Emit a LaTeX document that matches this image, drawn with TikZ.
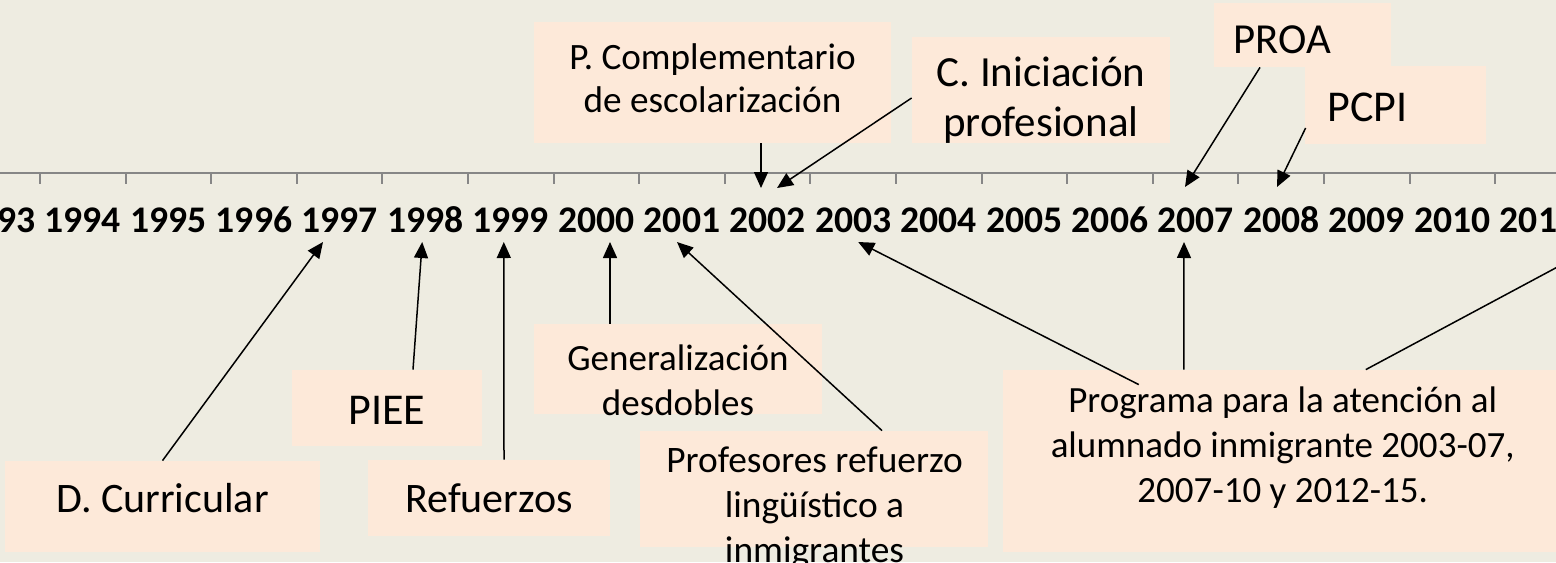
\documentclass[tikz,border=0pt]{standalone}
\usepackage{fontspec}
\setmainfont{Carlito}
\usetikzlibrary{arrows.meta,calc,fit}

\definecolor{bgtan}{RGB}{238,236,225}
\definecolor{peach}{RGB}{253,233,217}
\definecolor{axisgray}{RGB}{134,134,134}

\begin{document}
\begin{tikzpicture}[x=0.5pt, y=-0.5pt, >={Triangle[length=8pt, width=7pt]}]
		\tikzstyle{box} = [fill=peach, inner sep=0pt]
		\tikzstyle{txt} = [align=center, inner sep=0pt]
		\tikzstyle{year} = [inner sep=0pt, text height=12.5pt, text depth=0pt, font=\bfseries\fontsize{18.8}{22}\selectfont]
		\tikzstyle{axis} = [axisgray, line width=1pt]
		\tikzstyle{arr} = [->, black, line width=0.75pt]

		\useasboundingbox (0,0) rectangle (1556,562);
		\clip (0,0) rectangle (1556,562);
		\fill[bgtan] (0,0) rectangle (1556,562);

		% time axis
		\draw[axis] (0,173) -- (1556,173);
		\foreach \k in {0,...,17}
			\draw[axis] ({40+85.6*\k},173) -- ++(0,11);
		\foreach \yr in {1993,...,2011}
			\node[year] (y\yr) at ({82.8+85.6*(\yr-1994)},220) {\yr};

		% boxes above the axis
		\node[box, fit={(534,22) (891,143)}] (pcomp) {};
		\node[box, fit={(912,37) (1170,143)}] (cini) {};
		\node[box, fit={(1214,3) (1391,67)}] (proa) {};
		\node[box, fit={(1305,66) (1486,144)}] (pcpi) {};

		% boxes below the axis
		\node[box, fit={(5,461) (320,552)}] (dcur) {};
		\node[box, fit={(292,370) (482,446)}] (piee) {};
		\node[box, fit={(368,460) (610,536)}] (refz) {};
		\node[box, fit={(534,324) (822,414)}] (gen) {};
		\node[box, fit={(640,431) (988,547)}] (prof) {};
		\node[box, fit={(1003,370) (1562,552)}] (prog) {};

		% texts
		\node[txt, font=\fontsize{18.6}{21.5}\selectfont] (pcompT) at (712.5,78.5) {P. Complementario\\de escolarización};
		\node[txt, font=\fontsize{21.5}{25}\selectfont] (ciniT) at (1041,100) {C. Iniciación\\profesional};
		\node[txt, font=\fontsize{21.4}{25}\selectfont] (proaT) at (1282.5,40) {PROA};
		\node[txt, font=\fontsize{22}{26}\selectfont] (pcpiT) at (1367.5,107) {PCPI};
		\node[txt, font=\fontsize{21}{25}\selectfont] (dcurT) at (162.5,498) {D. Curricular};
		\node[txt, font=\fontsize{22}{26}\selectfont] (pieeT) at (387,410) {PIEE};
		\node[txt, font=\fontsize{21}{25}\selectfont] (refzT) at (489,498) {Refuerzos};
		\node[txt, font=\fontsize{18.5}{22.5}\selectfont] (genT) at (678,380.5) {Generalización\\desdobles};
		\node[txt, font=\fontsize{18.7}{22.5}\selectfont] (profT) at (814.5,507.5) {Profesores refuerzo\\lingüístico a\\inmigrantes};
		\node[txt, font=\fontsize{18.5}{22.5}\selectfont] (progT) at (1282.7,447.5) {Programa para la atención al\\alumnado inmigrante 2003-07,\\2007-10 y 2012-15.};

		\coordinate (off) at (1606,241);

		% arrows up to the years
		\draw[arr] (dcur.north) -- ($(y1997)+(-16.6,22)$);
		\draw[arr] ($(piee.north)+(26,0)$) -- ($(y1998)+(-3,22)$);
		\draw[arr] ($(refz.north)+(15,0)$) -- ($(y1999)+(-7,22)$);
		\draw[arr] ($(gen.north)+(-68,0)$) -- ($(y2000)+(13.6,22)$);
		\draw[arr] ($(prof.north)+(68,0)$) -- ($(y2001)+(-5,22)$);
		\draw[arr] ($(prog.north)+(-143.7,15)$) -- ($(y2003)+(5,22)$);
		\draw[arr] ($(prog.north)+(-98.7,0)$) -- ($(y2007)+(-11.6,22)$);
		\draw[arr] ($(prog.north)+(83.3,0)$) -- (off);

		% arrows down to the years
		\draw[arr] ($(pcomp.south)+(48.5,0)$) -- ($(y2002)+(-6.6,-32)$);
		\draw[arr] ($(cini.west)+(0,8)$) -- ($(y2002)+(9.4,-32)$);
		\draw[arr] ($(proa.south)+(-42.5,0)$) -- ($(y2007)+(-10.6,-33)$);
		\draw[arr] ($(pcpi.west)+(1,23)$) -- ($(y2008)+(-4.2,-33)$);
\end{tikzpicture}
\end{document}
